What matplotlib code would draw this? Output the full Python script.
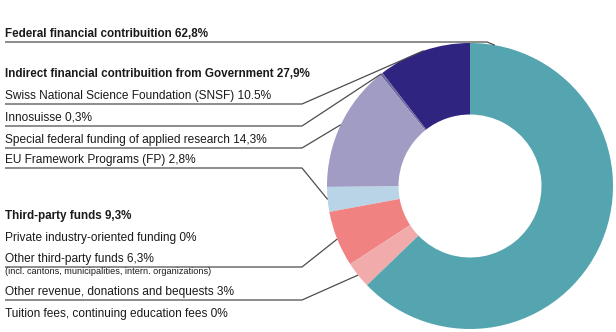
import numpy as np
import matplotlib.pyplot as plt

# slices, counter-clockwise from 12 o'clock
slices = ["SNSF", "Innosuisse", "Special federal", "EU FP", "Other third-party",
          "Other revenue", "Federal"]
values = [10.5, 0.3, 14.3, 2.8, 6.3, 3.0, 62.8]
colors = ["#2f2580", "#6f6aa0", "#a09cc4", "#b9d4e6", "#f08282", "#f2abab", "#55a5b0"]

# label rows: (text, bold, size, slice it points to or None)
labels = [
    ("Federal financial contribuition 62,8%", True, 8.4, "Federal"),
    ("Indirect financial contribuition from Government 27,9%", True, 8.4, None),
    ("Swiss National Science Foundation (SNSF) 10.5%", False, 8.6, "SNSF"),
    ("Innosuisse 0,3%", False, 8.6, "Innosuisse"),
    ("Special federal funding of applied research 14,3%", False, 8.6, "Special federal"),
    ("EU Framework Programs (FP) 2,8%", False, 8.6, "EU FP"),
    ("Third-party funds 9,3%", True, 8.4, None),
    ("Private industry-oriented funding 0%", False, 8.6, None),
    ("Other third-party funds 6,3%", False, 8.6, "Other third-party"),
    ("(incl. cantons, municipalities, intern. organizations)", False, 6.6, None),
    ("Other revenue, donations and bequests 3%", False, 8.6, "Other revenue"),
    ("Tuition fees, continuing education fees 0%", False, 8.6, None),
]
label_y = [34, 74, 96, 118, 140, 160, 216, 238, 259, 272, 292, 314]

plt.rcParams['font.family'] = ['Liberation Sans', 'DejaVu Sans']

H = 332
fig = plt.figure(figsize=(6.16, 3.32), dpi=100)
ax = fig.add_axes([0, 0, 1, 1])

cx, cy, R = 470, 186, 143
wedges, _ = ax.pie(values, colors=colors, startangle=90, counterclock=True,
                   center=(cx, H - cy), radius=R,
                   wedgeprops=dict(width=R * 0.5, linewidth=0), frame=True)
ax.set_xlim(0, 616)
ax.set_ylim(0, H)
ax.set_aspect('auto')
ax.axis('off')

def edge_point(name):
    w = wedges[slices.index(name)]
    if name == "Federal":
        ang = w.theta2 - 10
    else:
        ang = (w.theta1 + w.theta2) / 2
    a = np.deg2rad(ang)
    return cx + R * np.cos(a), (H - cy) + R * np.sin(a)

for (txt, bold, size, target), y in zip(labels, label_y):
    ax.text(5, H - y, txt, fontsize=size, fontweight='bold' if bold else 'normal',
            va='center', ha='left', color='#1a1a1a')
    if target:
        ly = H - (y + 8)
        ex, ey = edge_point(target)
        kink = 487 if target == "Federal" else 302
        ax.plot([5, kink, ex], [ly, ly, ey], color='#4d4d4d', lw=0.9,
                solid_capstyle='butt')

fig.savefig("out.png", dpi=100)
